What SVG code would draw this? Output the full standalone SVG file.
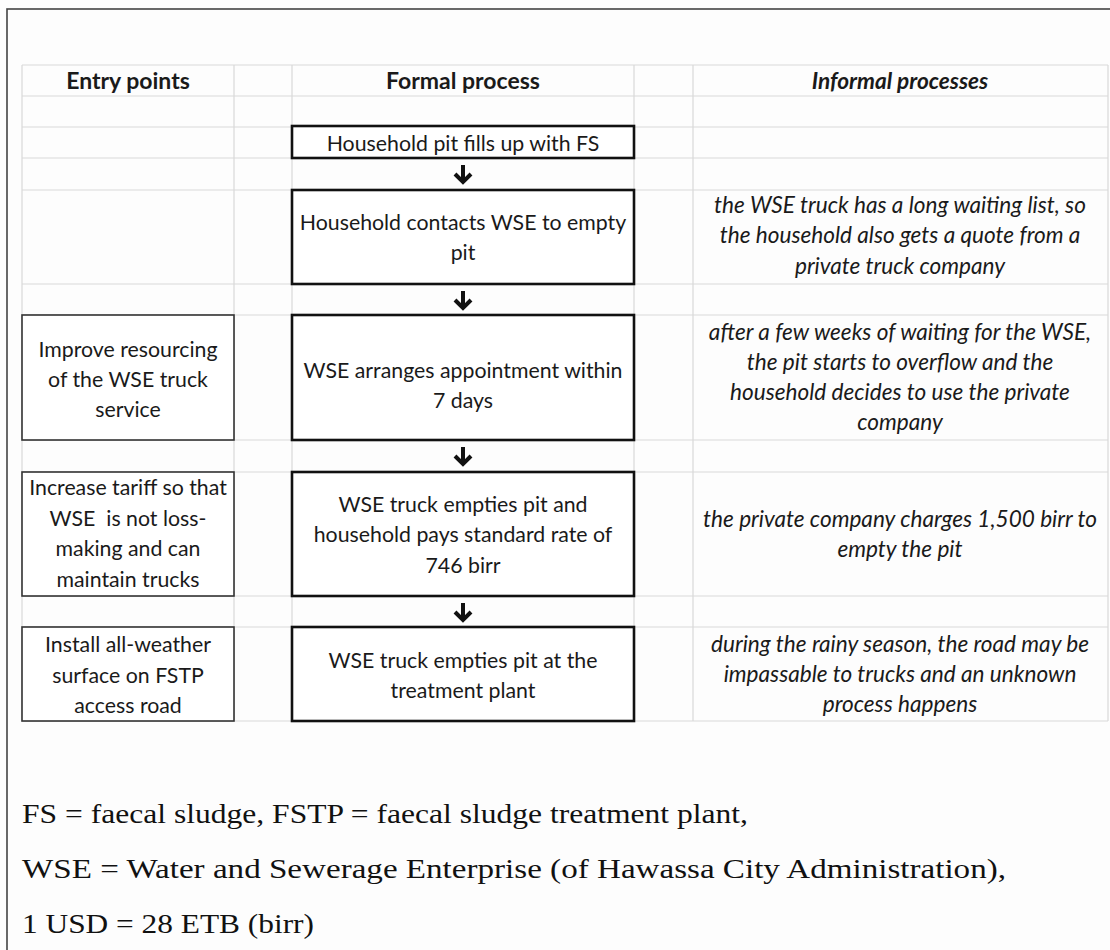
<svg xmlns="http://www.w3.org/2000/svg" width="1110" height="950" viewBox="0 0 1110 950">
<style>
.grid{stroke:#d9d9d9;stroke-width:1.2;fill:none}
.t{font-family:Lato,"Open Sans","Liberation Sans",sans-serif;font-size:21.3px;fill:#1a1a1a;text-anchor:middle}
.h{font-weight:bold;font-size:23px}
.i{font-style:italic;font-size:22.6px}
.fbox{fill:#fff;stroke:#111;stroke-width:2.6}
.ebox{fill:#fff;stroke:#333;stroke-width:1.6}
.arr{fill:none;stroke:#111;stroke-width:4;stroke-linejoin:miter;stroke-linecap:butt}
.foot{font-family:"Liberation Serif","Times New Roman",serif;font-size:28px;fill:#111}
</style>
<rect x="0" y="0" width="1110" height="950" fill="#fdfdfd"/>
<rect x="7" y="9" width="1120" height="960" fill="none" stroke="#444" stroke-width="1.6"/>
<g id="grid">
<path class="grid" d="M22,65H1108M22,96H1108M22,127H1108M22,158H1108M22,190H1108M22,284H1108M22,315H1108M22,440H1108M22,472H1108M22,596H1108M22,627H1108M22,721H1108"/>
<path class="grid" d="M22,65V721M234,65V721M292,65V721M634,65V721M693,65V721M1108,65V721"/>
</g>
<g id="headers">
<text class="t h" x="128" y="89">Entry points</text>
<text class="t h" x="463" y="89">Formal process</text>
<text class="t h i" x="900" y="89">Informal processes</text>
</g>
<g id="formal1">
<rect class="fbox" x="292" y="126" width="342" height="32"/>
<text class="t" x="463" y="151">Household pit fills up with FS</text>
</g>
<g id="formal2">
<rect class="fbox" x="292" y="190" width="342" height="94"/>
<text class="t" x="463" y="230">Household contacts WSE to empty</text>
<text class="t" x="463" y="260">pit</text>
</g>
<g id="informal1">
<text class="t i" x="900" y="213">the WSE truck has a long waiting list, so</text>
<text class="t i" x="900" y="243">the household also gets a quote from a</text>
<text class="t i" x="900" y="274">private truck company</text>
</g>
<g id="entry1">
<rect class="ebox" x="22" y="315" width="212" height="125"/>
<text class="t" x="128" y="357">Improve resourcing</text>
<text class="t" x="128" y="387">of the WSE truck</text>
<text class="t" x="128" y="417">service</text>
</g>
<g id="formal3">
<rect class="fbox" x="292" y="315" width="342" height="125"/>
<text class="t" x="463" y="378">WSE arranges appointment within</text>
<text class="t" x="463" y="408">7 days</text>
</g>
<g id="informal2">
<text class="t i" x="900" y="340">after a few weeks of waiting for the WSE,</text>
<text class="t i" x="900" y="370">the pit starts to overflow and the</text>
<text class="t i" x="900" y="400">household decides to use the private</text>
<text class="t i" x="900" y="430">company</text>
</g>
<g id="entry2">
<rect class="ebox" x="22" y="472" width="212" height="124"/>
<text class="t" x="128" y="495">Increase tariff so that</text>
<text class="t" x="128" y="526" xml:space="preserve">WSE  is not loss-</text>
<text class="t" x="128" y="556">making and can</text>
<text class="t" x="128" y="587">maintain trucks</text>
</g>
<g id="formal4">
<rect class="fbox" x="292" y="472" width="342" height="124"/>
<text class="t" x="463" y="512">WSE truck empties pit and</text>
<text class="t" x="463" y="542">household pays standard rate of</text>
<text class="t" x="463" y="573">746 birr</text>
</g>
<g id="informal3">
<text class="t i" x="900" y="527">the private company charges 1,500 birr to</text>
<text class="t i" x="900" y="557">empty the pit</text>
</g>
<g id="entry3">
<rect class="ebox" x="22" y="627" width="212" height="94"/>
<text class="t" x="128" y="652">Install all-weather</text>
<text class="t" x="128" y="683">surface on FSTP</text>
<text class="t" x="128" y="713">access road</text>
</g>
<g id="formal5">
<rect class="fbox" x="292" y="627" width="342" height="94"/>
<text class="t" x="463" y="668">WSE truck empties pit at the</text>
<text class="t" x="463" y="698">treatment plant</text>
</g>
<g id="informal4">
<text class="t i" x="900" y="652">during the rainy season, the road may be</text>
<text class="t i" x="900" y="682">impassable to trucks and an unknown</text>
<text class="t i" x="900" y="712">process happens</text>
</g>
<g id="connectors">
<path class="arr" d="M463,165V182M455,174L463,182L471,174"/>
<path class="arr" d="M463,291V308M455,300L463,308L471,300"/>
<path class="arr" d="M463,447V464M455,456L463,464L471,456"/>
<path class="arr" d="M463,603V620M455,612L463,620L471,612"/>
</g>
<g id="footnote">
<text class="foot" x="22" y="823" textLength="726" lengthAdjust="spacingAndGlyphs">FS = faecal sludge, FSTP = faecal sludge treatment plant,</text>
<text class="foot" x="22" y="878" textLength="984" lengthAdjust="spacingAndGlyphs">WSE = Water and Sewerage Enterprise (of Hawassa City Administration),</text>
<text class="foot" x="22" y="933" textLength="292" lengthAdjust="spacingAndGlyphs">1 USD = 28 ETB (birr)</text>
</g>
</svg>
